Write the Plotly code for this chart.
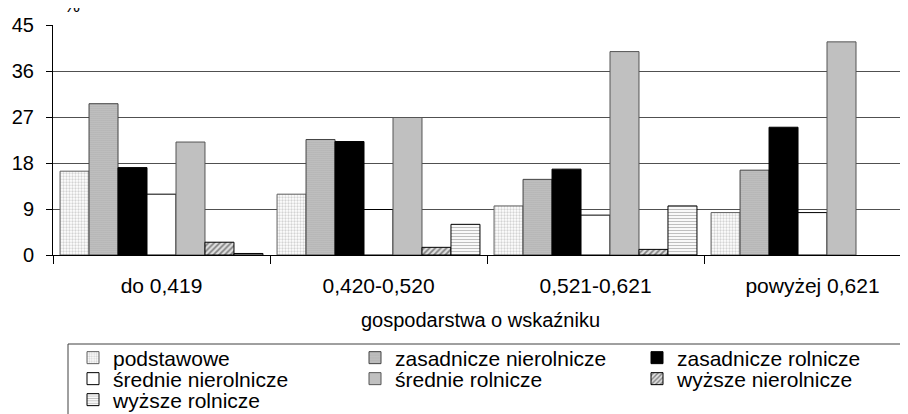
import plotly.graph_objects as go

categories = ["do 0,419", "0,420-0,520", "0,521-0,621", "powyżej 0,621"]

podstawowe = [16.4, 11.9, 9.6, 8.3]
zasadnicze_nierolnicze = [29.6, 22.6, 14.8, 16.6]
zasadnicze_rolnicze = [17.1, 22.2, 16.8, 25.0]
srednie_nierolnicze = [11.9, 8.9, 7.8, 8.3]
srednie_rolnicze = [22.1, 26.9, 39.8, 41.7]
wyzsze_nierolnicze = [2.5, 1.5, 1.1, None]
wyzsze_rolnicze = [0.3, 6.0, 9.6, None]

y_ticks = [0, 9, 18, 27, 36, 45]

# (name, values, marker, legend row)
series = [
    ("podstawowe", podstawowe,
     dict(color="white", line=dict(color="#606060", width=1),
          pattern=dict(shape=".", fgcolor="#a8a8a8", bgcolor="white", size=3, solidity=0.45)),
     "legend"),
    ("zasadnicze nierolnicze", zasadnicze_nierolnicze,
     dict(color="#d0d0d0", line=dict(color="#444444", width=1),
          pattern=dict(shape=".", fgcolor="#707070", bgcolor="#d4d4d4", size=2, solidity=0.6)),
     "legend"),
    ("zasadnicze rolnicze", zasadnicze_rolnicze,
     dict(color="black", line=dict(color="black", width=1)),
     "legend"),
    ("średnie nierolnicze", srednie_nierolnicze,
     dict(color="white", line=dict(color="black", width=1)),
     "legend2"),
    ("średnie rolnicze", srednie_rolnicze,
     dict(color="#c0c0c0", line=dict(color="#555555", width=1)),
     "legend2"),
    ("wyższe nierolnicze", wyzsze_nierolnicze,
     dict(color="white", line=dict(color="black", width=1),
          pattern=dict(shape="/", fgcolor="#222222", bgcolor="#e0e0e0", size=4, solidity=0.45)),
     "legend2"),
    ("wyższe rolnicze", wyzsze_rolnicze,
     dict(color="white", line=dict(color="black", width=1),
          pattern=dict(shape="-", fgcolor="#808080", bgcolor="white", size=3, solidity=0.4)),
     "legend3"),
]

fig = go.Figure()
for name, vals, marker, lg in series:
    fig.add_trace(go.Bar(name=name, x=categories, y=vals, marker=marker, legend=lg))

FONT = "Liberation Sans, Arial, sans-serif"

# page body has an 8px default margin; positions below are in screen pixels
OFF = 8
FW, FH = 908 - OFF, 414 - OFF
# plot area in screen pixels: x 53..908, y 25..255
SL, SR, ST, SB = 53, 908, 25, 255
PW, PH = SR - SL, SB - ST

def px_x(x):
    return (x - SL) / PW

def px_y(y):
    return (SB - y) / PH

def legend_row(ycenter):
    return dict(
        orientation="h", x=px_x(73), xanchor="left", y=px_y(ycenter), yanchor="middle",
        entrywidth=237, entrywidthmode="pixels",
        borderwidth=0, bgcolor="rgba(0,0,0,0)",
        font=dict(family=FONT, size=21, color="black"),
        traceorder="normal",
    )

fig.update_layout(
    width=FW, height=FH,
    margin=dict(l=SL - OFF, r=0, t=ST - OFF, b=FH - (SB - OFF), autoexpand=False),
    paper_bgcolor="white", plot_bgcolor="white",
    barmode="group", bargap=0.065, bargroupgap=0,
    font=dict(family=FONT, color="black"),
    showlegend=True,
    legend=legend_row(358),
    legend2=legend_row(379),
    legend3=legend_row(400),
    xaxis=dict(
        type="category", range=[-0.5, 3.44],
        showline=True, linecolor="black", linewidth=1,
        ticks="outside", tickson="boundaries", ticklen=8, tickcolor="black",
        tickfont=dict(family=FONT, size=21, color="black"),
        ticklabelstandoff=12,
        title=dict(text="gospodarstwa o wskaźniku", font=dict(family=FONT, size=20, color="black"), standoff=16),
        showgrid=False,
    ),
    yaxis=dict(
        range=[0, 45], tickvals=y_ticks,
        showline=True, linecolor="black", linewidth=1,
        ticks="outside", ticklen=6, tickcolor="black",
        showgrid=True, gridcolor="#505050", gridwidth=1,
        zeroline=False,
        tickfont=dict(family=FONT, size=20, color="black"),
        ticklabelstandoff=8,
    ),
    shapes=[dict(type="rect", xref="paper", yref="paper",
                 x0=px_x(68), x1=px_x(930), y0=px_y(344), y1=px_y(430),
                 line=dict(color="#404040", width=1), fillcolor="rgba(0,0,0,0)")],
    annotations=[dict(text="%", xref="paper", yref="paper", x=px_x(72), y=px_y(18),
                      xanchor="center", yanchor="bottom", showarrow=False,
                      font=dict(family=FONT, size=18, color="black"))],
)

fig.write_html("out.html")
